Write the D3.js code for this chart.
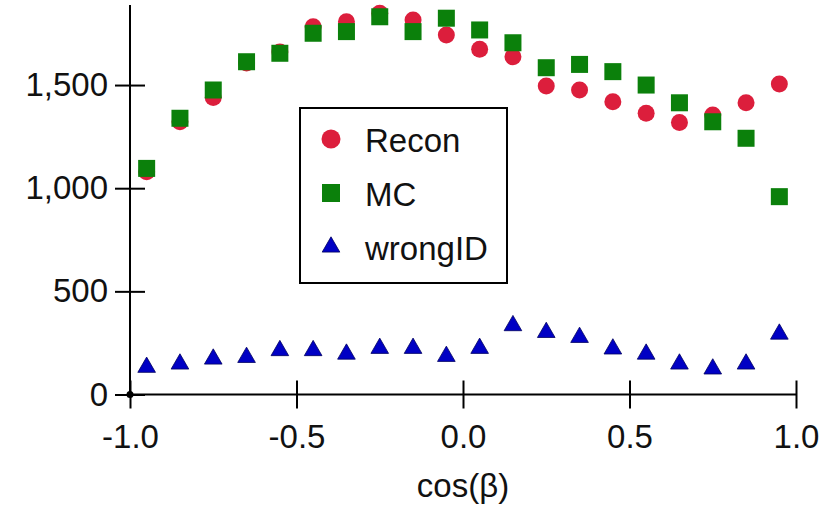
<!DOCTYPE html>
<html>
<head>
<meta charset="utf-8">
<title>cos(beta) distribution</title>
<script src="https://d3js.org/d3.v7.min.js"></script>
<style>
  body { margin: 0; background: #fff; }
  #chart text { font-family: "Liberation Sans", Arial, sans-serif; fill: #111; }
</style>
</head>
<body>
<svg id="chart" width="838" height="507"></svg>
<script>
// bin centres in cos(beta)
const bins = [-0.95, -0.85, -0.75, -0.65, -0.55, -0.45, -0.35, -0.25, -0.15, -0.05,
              0.05, 0.15, 0.25, 0.35, 0.45, 0.55, 0.65, 0.75, 0.85, 0.95];
const recon = [1080, 1322, 1440, 1607, 1660, 1783, 1807, 1848, 1815, 1743,
               1673, 1637, 1495, 1476, 1419, 1363, 1318, 1355, 1414, 1505];
const mc = [1096, 1339, 1476, 1613, 1654, 1751, 1759, 1831, 1759, 1824,
            1767, 1705, 1584, 1600, 1565, 1500, 1414, 1322, 1242, 959];
const wrongID = [132, 148, 172, 180, 213, 213, 196, 224, 224, 185,
                 224, 334, 301, 277, 221, 196, 148, 124, 148, 293];
const xTicks = [-1, -0.5, 0, 0.5, 1];
const yTicks = [0, 500, 1000, 1500];
const seriesNames = ["Recon", "MC", "wrongID"];
const xLabel = "cos(β)";

const svg = d3.select("#chart");

const x = d3.scaleLinear().domain([-1, 1]).range([130, 796]);
const y = d3.scaleLinear().domain([0, 1888]).range([394.5, 5]);

const colors = { Recon: "#dc1e3c", MC: "#0b800b", wrongID: "#0000c4" };

// axes
const xAxis = svg.append("g")
    .attr("transform", "translate(0," + y(0) + ")")
    .call(d3.axisBottom(x).tickValues(xTicks).tickFormat(d => d.toFixed(1))
      .tickSize(14).tickPadding(16));
xAxis.selectAll(".tick line").attr("y1", -14);

const yAxis = svg.append("g")
    .attr("transform", "translate(" + x(-1) + ",0)")
    .call(d3.axisLeft(y).tickValues(yTicks).tickFormat(d3.format(","))
      .tickSize(15).tickPadding(7));
yAxis.selectAll(".tick line").attr("x1", 15);

svg.selectAll(".domain").attr("stroke", "#000").attr("stroke-width", 2);
svg.selectAll(".tick line").attr("stroke", "#000").attr("stroke-width", 2);
svg.selectAll(".tick text").style("font-size", "33px").attr("fill", "#111");
// plain axis lines without the outer end ticks
xAxis.select(".domain").attr("d", "M" + x(-1) + ",0H" + x(1));
yAxis.select(".domain").attr("d", "M0," + y(0) + "V" + y.range()[1]);

svg.append("circle")
    .attr("cx", x(-1)).attr("cy", y(0)).attr("r", 3.5).attr("fill", "#000");

svg.append("text")
    .attr("x", x(0)).attr("y", 497)
    .attr("text-anchor", "middle")
    .style("font-size", "33px")
    .text(xLabel);

// points
const tri = d3.symbol().type(d3.symbolTriangle).size(135);

svg.append("g").selectAll("circle")
    .data(d3.zip(bins, recon))
    .join("circle")
    .attr("cx", d => x(d[0])).attr("cy", d => y(d[1]))
    .attr("r", 8.5).attr("fill", colors.Recon);

svg.append("g").selectAll("rect")
    .data(d3.zip(bins, mc))
    .join("rect")
    .attr("x", d => x(d[0]) - 8.5).attr("y", d => y(d[1]) - 8.5)
    .attr("width", 17).attr("height", 17)
    .attr("fill", colors.MC);

svg.append("g").selectAll("path")
    .data(d3.zip(bins, wrongID))
    .join("path")
    .attr("transform", d => "translate(" + x(d[0]) + "," + y(d[1]) + ")")
    .attr("d", tri)
    .attr("fill", colors.wrongID)
    .attr("stroke", "#000060").attr("stroke-width", 0.8);

// legend
const legend = svg.append("g");
legend.append("rect")
    .attr("x", 300).attr("y", 108).attr("width", 207).attr("height", 175)
    .attr("fill", "#fff").attr("stroke", "#000").attr("stroke-width", 2);

const item = legend.selectAll("g.item")
    .data(seriesNames)
    .join("g")
    .attr("class", "item")
    .attr("transform", (d, i) => "translate(331," + (139 + i * 54) + ")");

item.each(function(d) {
  const g = d3.select(this);
  if (d === "Recon") {
    g.append("circle").attr("r", 9.5).attr("fill", colors.Recon);
  } else if (d === "MC") {
    g.append("rect").attr("x", -9).attr("y", -9).attr("width", 18).attr("height", 18)
      .attr("fill", colors.MC);
  } else {
    g.append("path").attr("d", tri).attr("fill", colors.wrongID)
      .attr("stroke", "#000060").attr("stroke-width", 0.8);
  }
  g.append("text").attr("x", 34).attr("y", 13)
    .style("font-size", "33px").text(d);
});
</script>
</body>
</html>
